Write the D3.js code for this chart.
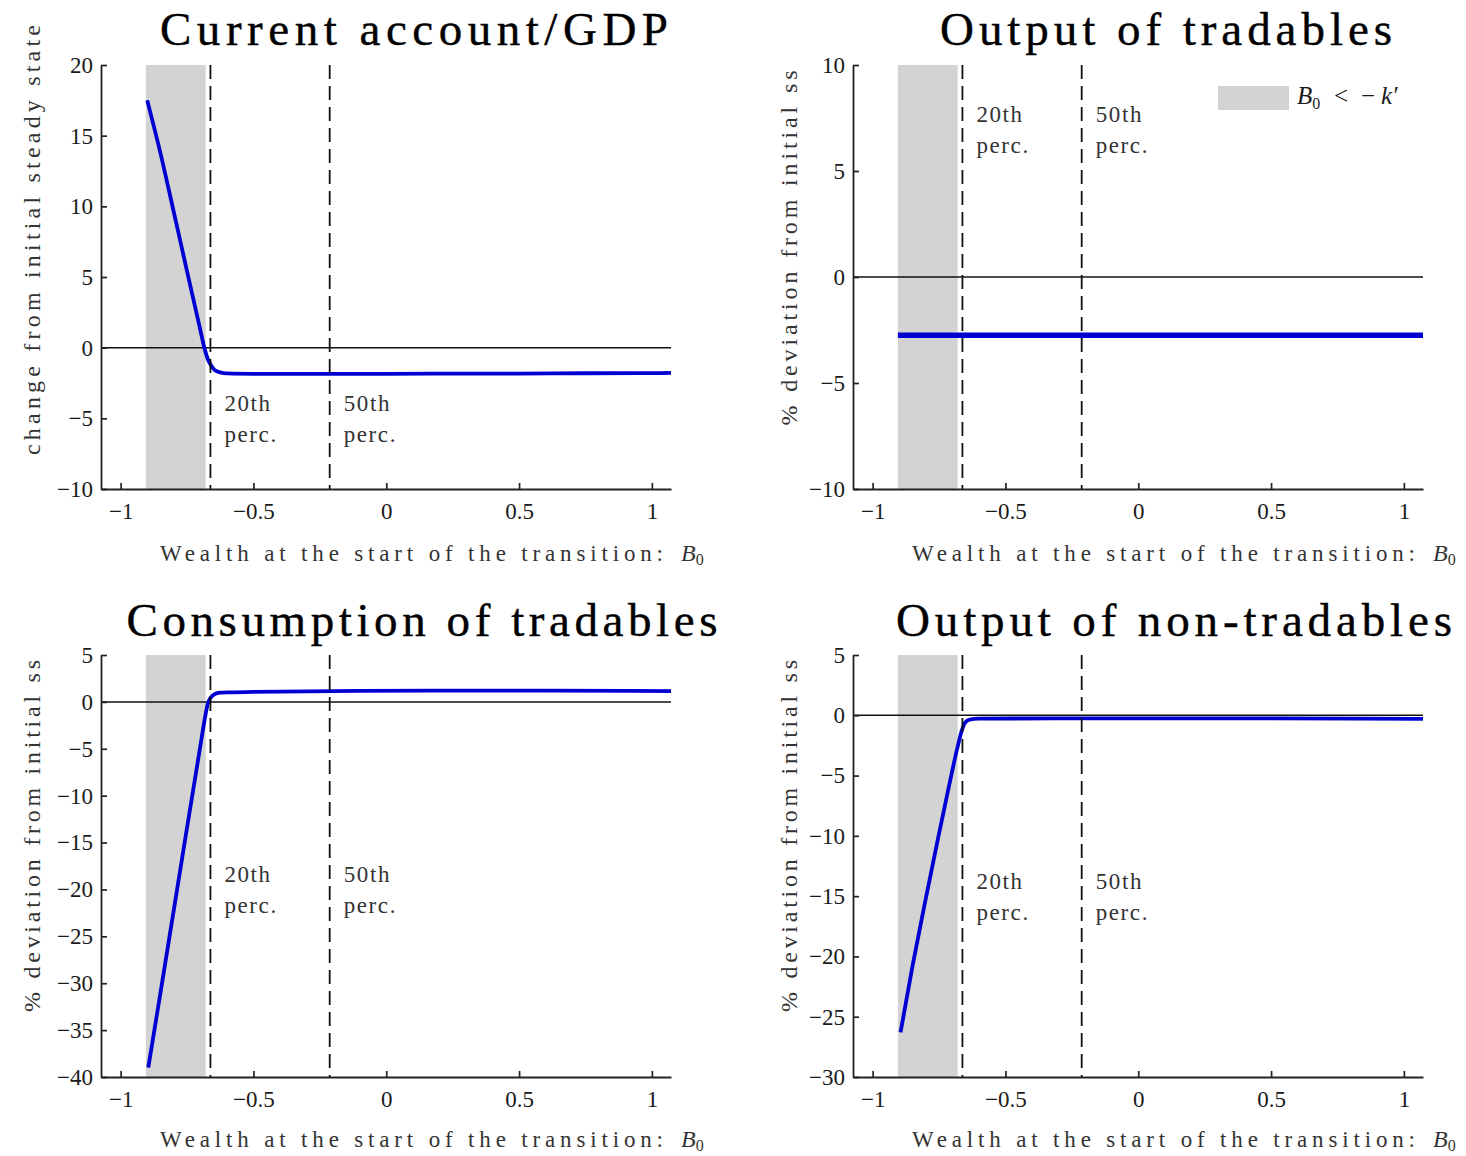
<!DOCTYPE html>
<html>
<head>
<meta charset="utf-8">
<script src="https://cdn.jsdelivr.net/npm/d3@7"></script>
<style>
  html, body { margin: 0; padding: 0; background: #fff; }
  svg { display: block; }
</style>
</head>
<body>
<svg id="chart" width="1466" height="1156"></svg>
<script>
// ---------------- DATA ----------------
const titles = ["Current account/GDP", "Output of tradables", "Consumption of tradables", "Output of non-tradables"];
const yLabels = ["change from initial steady state", "% deviation from initial ss", "% deviation from initial ss", "% deviation from initial ss"];
const xLabelText = "Wealth at the start of the transition:";
const yDomains = [[-10, 20], [-10, 10], [-40, 5], [-30, 5]];
const yTickSets = [
  [-10, -5, 0, 5, 10, 15, 20],
  [-10, -5, 0, 5, 10],
  [-40, -35, -30, -25, -20, -15, -10, -5, 0, 5],
  [-30, -25, -20, -15, -10, -5, 0, 5]
];
const xDomain = [-1.074, 1.072];
const xTickVals = [-1, -0.5, 0, 0.5, 1];
const shadeRange = [-0.905, -0.68];           // B0 < -k'
const percentileX = [-0.662, -0.213];
const percentileNames = ["20th", "50th"];
const percentileLabelY = [-4.5, 7.3, -19.2, -14.4];  // baseline value of first label line per panel

// Current account / GDP
const caX = [-0.9, -0.85, -0.80, -0.75, -0.70, -0.685, -0.672, -0.66, -0.645, -0.625, -0.60, -0.50, -0.30, -0.20, 0, 0.25, 0.50, 0.75, 1.0, 1.072];
const caY = [17.5, 13.75, 9.6, 5.4, 1.25, 0.0, -0.8, -1.25, -1.6, -1.75, -1.82, -1.85, -1.86, -1.86, -1.85, -1.84, -1.83, -1.81, -1.8, -1.78];
// Output of tradables
const otX = [-0.905, 1.072];
const otY = [-2.75, -2.75];
// Consumption of tradables
const ctX = [-0.896, -0.85, -0.80, -0.75, -0.70, -0.685, -0.672, -0.66, -0.645, -0.625, -0.60, -0.50, -0.20, 0.20, 0.60, 1.072];
const ctY = [-39.0, -31.0, -22.2, -13.4, -4.7, -2.1, -0.2, 0.5, 0.85, 0.98, 1.02, 1.06, 1.15, 1.2, 1.2, 1.15];
// Output of non-tradables
const ntX = [-0.895, -0.85, -0.80, -0.75, -0.71, -0.68, -0.665, -0.652, -0.635, -0.60, -0.30, 0.30, 1.072];
const ntY = [-26.3, -20.8, -15.2, -9.8, -5.6, -2.6, -1.3, -0.6, -0.35, -0.28, -0.25, -0.25, -0.3];

const seriesX = [caX, otX, ctX, ntX];
const seriesY = [caY, otY, ctY, ntY];

// ---------------- LAYOUT ----------------
const svg = d3.select("#chart");
const FONT = "'Liberation Serif', 'DejaVu Serif', serif";
const colLeft = [101, 853];
const plotW = 570;
const rowTop = [65, 655];
const rowBottom = [489, 1077];
const titleBase = [45, 636];
const xLabBase = [561, 1147];
const titleWidths = [508, 452, 591, 556];
const yLabWidths = [430, 355, 352, 352];
const yLabCenterOff = [175, 183, 181, 181];
const yLabBaseX = [40, 797];
const blue = "#0000d2";

function spread(sel, target) {
  const node = sel.node();
  const n = node.getNumberOfChars();
  const nat = node.getComputedTextLength();
  const ls = (target - nat) / (n - 1);
  sel.attr("letter-spacing", ls);
}

for (let i = 0; i < 4; i++) {
  const col = i % 2, row = Math.floor(i / 2);
  const x0 = colLeft[col], x1 = x0 + plotW;
  const y0 = rowTop[row], y1 = rowBottom[row];
  const x = d3.scaleLinear().domain(xDomain).range([x0, x1]);
  const y = d3.scaleLinear().domain(yDomains[i]).range([y1, y0]);
  const g = svg.append("g");

  // shaded region
  g.append("rect")
    .attr("x", x(shadeRange[0])).attr("y", y0)
    .attr("width", x(shadeRange[1]) - x(shadeRange[0])).attr("height", y1 - y0)
    .attr("fill", "#d3d3d3");

  // zero line
  g.append("line")
    .attr("x1", x0).attr("x2", x1).attr("y1", y(0)).attr("y2", y(0))
    .attr("stroke", "#111").attr("stroke-width", 1.5);

  // curve
  const pts = seriesX[i].map((v, k) => [v, seriesY[i][k]]);
  g.append("path")
    .datum(pts)
    .attr("fill", "none")
    .attr("stroke", blue)
    .attr("stroke-width", i === 1 ? 5.5 : 3.8)
    .attr("stroke-linejoin", "round")
    .attr("d", d3.line().x(d => x(d[0])).y(d => y(d[1])).curve(d3.curveMonotoneX));

  // dashed percentile lines
  percentileX.forEach((px, k) => {
    g.append("line")
      .attr("x1", x(px)).attr("x2", x(px)).attr("y1", y0).attr("y2", y1)
      .attr("stroke", "#111").attr("stroke-width", 1.8)
      .attr("stroke-dasharray", "14,7");
    const t = g.append("text")
      .attr("font-family", FONT).attr("font-size", 23).attr("fill", "#333")
      .attr("letter-spacing", 1.6);
    t.append("tspan").attr("x", x(px) + 14).attr("y", y(percentileLabelY[i])).text(percentileNames[k]);
    t.append("tspan").attr("x", x(px) + 14).attr("dy", 31).text("perc.");
  });

  // axes
  const yAxis = d3.axisLeft(y).tickValues(yTickSets[i]).tickSizeInner(-6).tickSizeOuter(0)
    .tickPadding(8).tickFormat(d3.format("d"));
  const ya = g.append("g").attr("transform", `translate(${x0},0)`).call(yAxis);
  const xAxis = d3.axisBottom(x).tickValues(xTickVals).tickSizeInner(-6).tickSizeOuter(0)
    .tickPadding(14).tickFormat(d3.format("~g"));
  const xa = g.append("g").attr("transform", `translate(0,${y1})`).call(xAxis);
  [ya, xa].forEach(a => {
    a.attr("font-family", FONT).attr("font-size", 23);
    a.select(".domain").attr("stroke", "#222").attr("stroke-width", 1.8);
    a.selectAll(".tick line").attr("stroke", "#222").attr("stroke-width", 1.7);
    a.selectAll(".tick text").attr("fill", "#1a1a1a");
  });

  // title
  const tw = titleWidths[i];
  const tcx = (x0 + x1) / 2 + (row === 0 ? 28 : 36);
  const title = svg.append("text")
    .attr("x", tcx - tw / 2).attr("y", titleBase[row])
    .attr("font-family", FONT).attr("font-size", 47).attr("fill", "#000")
    .attr("stroke", "#000").attr("stroke-width", 0.4)
    .text(titles[i]);
  spread(title, tw);

  // x label: spaced text part, then math B_0
  const xl = svg.append("text")
    .attr("x", x0 + 59).attr("y", xLabBase[row])
    .attr("font-family", FONT).attr("font-size", 23).attr("fill", "#333")
    .text(xLabelText);
  spread(xl, 503);
  const bx0 = x0 + 59 + 521;
  const bm = svg.append("text")
    .attr("x", bx0).attr("y", xLabBase[row])
    .attr("font-family", FONT).attr("font-size", 24).attr("fill", "#333");
  bm.append("tspan").attr("font-style", "italic").text("B");
  bm.append("tspan").attr("font-size", 16).attr("dy", 4).text("0");

  // y label
  const cy = y0 + yLabCenterOff[i];
  const bx = yLabBaseX[col];
  const yl = svg.append("text")
    .attr("transform", `translate(${bx},${cy}) rotate(-90)`)
    .attr("x", 0).attr("y", 0)
    .attr("text-anchor", "start")
    .attr("font-family", FONT).attr("font-size", 24).attr("fill", "#333")
    .text(yLabels[i]);
  spread(yl, yLabWidths[i]);
  yl.attr("x", -yLabWidths[i] / 2);
}

// legend (top-right panel)
svg.append("rect").attr("x", 1218).attr("y", 86).attr("width", 71).attr("height", 24).attr("fill", "#d3d3d3");
const lg = svg.append("text").attr("y", 104)
  .attr("font-family", FONT).attr("font-size", 25).attr("fill", "#1a1a1a");
lg.append("tspan").attr("x", 1297).attr("font-style", "italic").text("B");
lg.append("tspan").attr("font-size", 16).attr("dy", 5).text("0");
lg.append("tspan").attr("x", 1334).attr("dy", -5).text("<");
lg.append("tspan").attr("x", 1361).text("\u2212");
lg.append("tspan").attr("x", 1381).attr("font-style", "italic").text("k\u2032");
</script>
</body>
</html>
